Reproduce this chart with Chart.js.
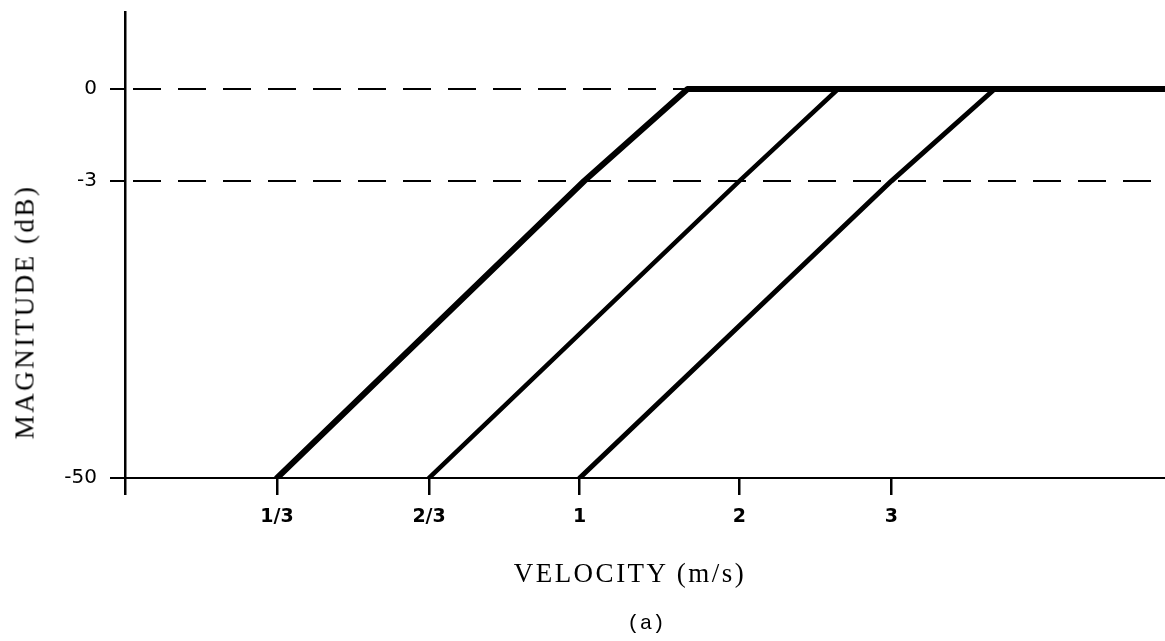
<!DOCTYPE html>
<html>
<head>
<meta charset="utf-8">
<script src="https://cdn.jsdelivr.net/npm/chart.js@4/dist/chart.umd.min.js"></script>
<style>
  html, body { margin: 0; padding: 0; background: #fff; }
  #wrap { position: relative; width: 1165px; height: 641px; }
  canvas { position: absolute; left: 0; top: 0; }
  .lbl { position: absolute; color: #000; white-space: nowrap; }
  #ytitle { font: 27px "Liberation Serif", serif; letter-spacing: 2.5px;
            left: 25px; top: 312px; transform: translate(-50%, -50%) rotate(-90deg); }
  #xtitle { font: 27px "Liberation Serif", serif; letter-spacing: 2.5px;
            left: 630px; top: 573px; transform: translate(-50%, -50%); }
  #caption { font: 21px "Liberation Mono", monospace;
             left: 646px; top: 623px; transform: translate(-50%, -50%); }
</style>
</head>
<body>
<div id="wrap">
  <canvas id="myChart" width="1165" height="641"></canvas>
  <div class="lbl" id="ytitle">MAGNITUDE (dB)</div>
  <div class="lbl" id="xtitle">VELOCITY (m/s)</div>
  <div class="lbl" id="caption">(a)</div>
</div>
<script>
// schematic axes: values are positions along each (non-linear) axis
const velocityTicks = [0, 1.0, 2.0, 2.99, 4.04, 5.04];
const velocityLabels = ['', '1/3', '2/3', '1', '2', '3'];
const magnitudeTicks = [-4.228, -1, 0];
const magnitudeLabels = ['-50', '-3', '0'];
const xMax = 6.84;
const yMax = 0.837;

// three response curves
const curve1 = [{x: 1.0, y: -4.228}, {x: 3.02, y: -1}, {x: 3.70, y: 0}, {x: 6.84, y: 0}];
const curve2 = [{x: 2.0, y: -4.228}, {x: 4.04, y: -1}, {x: 4.69, y: 0}];
const curve3 = [{x: 2.99, y: -4.228}, {x: 5.04, y: -1}, {x: 5.72, y: 0}];

// dashed reference levels (0 dB and -3 dB)
const ref0 = [{x: 0, y: 0}, {x: xMax, y: 0}];
const ref3 = [{x: 0, y: -1}, {x: xMax, y: -1}];

function curve(data, width) {
    return {
        data: data,
        borderColor: '#000',
        borderWidth: width,
        borderCapStyle: 'round',
        borderJoinStyle: 'round',
        pointRadius: 0,
        tension: 0,
        fill: false,
        order: 1
    };
}
function dashed(data) {
    return {
        data: data,
        borderColor: '#000',
        borderWidth: 2,
        borderDash: [28, 17],
        borderDashOffset: 37,
        pointRadius: 0,
        fill: false,
        order: 2
    };
}

var context = document.getElementById('myChart').getContext('2d');
var myChart = new Chart(context, {
    type: 'line',
    data: {
        datasets: [
            curve(curve1, 6),
            curve(curve2, 4.5),
            curve(curve3, 5),
            dashed(ref0),
            dashed(ref3)
        ]
    },
    options: {
        responsive: false,
        animation: false,
        layout: { padding: { top: 12, left: 0, right: 0, bottom: 0 } },
        plugins: { legend: { display: false }, tooltip: { enabled: false } },
        scales: {
            x: {
                type: 'linear',
                min: 0,
                max: xMax,
                afterBuildTicks: (scale) => { scale.ticks = velocityTicks.map(v => ({ value: v })); },
                afterFit: (scale) => {
                    scale.height = 163;
                    scale.paddingLeft = 0;
                    scale.paddingRight = 0;
                },
                ticks: {
                    autoSkip: false,
                    maxRotation: 0,
                    padding: 11,
                    color: '#000',
                    font: { family: 'DejaVu Sans', size: 19, weight: 'bold' },
                    callback: (value, index) => velocityLabels[index]
                },
                grid: {
                    drawOnChartArea: false,
                    drawTicks: true,
                    tickLength: 17,
                    lineWidth: 2.5,
                    color: '#000'
                },
                border: { display: true, color: '#000', width: 2 }
            },
            y: {
                type: 'linear',
                min: -4.228,
                max: yMax,
                afterBuildTicks: (scale) => { scale.ticks = magnitudeTicks.map(v => ({ value: v })); },
                afterFit: (scale) => {
                    scale.width = 125;
                    scale.paddingTop = 0;
                    scale.paddingBottom = 0;
                },
                ticks: {
                    padding: 13,
                    color: '#000',
                    font: { family: 'DejaVu Sans', size: 20 },
                    callback: (value, index) => magnitudeLabels[index]
                },
                grid: {
                    drawOnChartArea: false,
                    drawTicks: true,
                    tickLength: 15,
                    lineWidth: 2,
                    color: '#000'
                },
                border: { display: true, color: '#000', width: 2.5 }
            }
        }
    }
});
</script>
</body>
</html>
